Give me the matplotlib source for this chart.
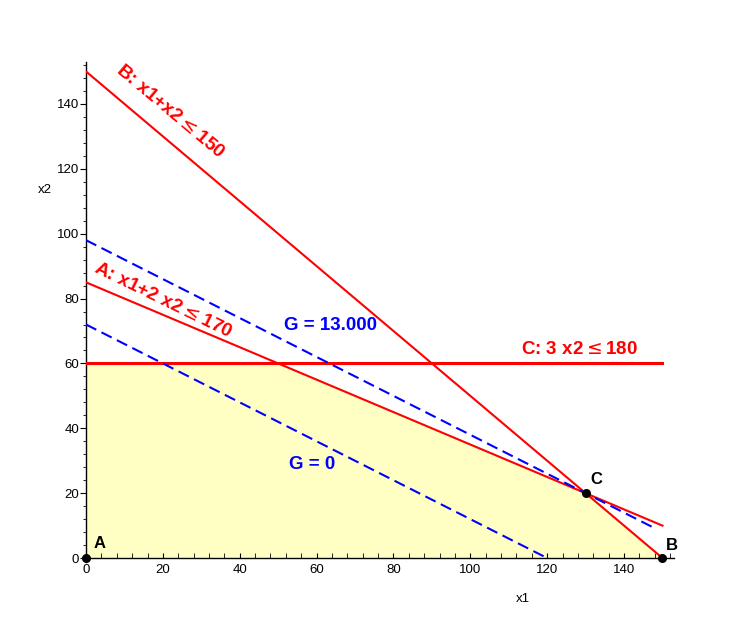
import numpy as np
import matplotlib
matplotlib.use("Agg")
import matplotlib.pyplot as plt
from matplotlib.ticker import MultipleLocator

plt.rcParams["font.family"] = ["Liberation Sans", "DejaVu Sans"]

# ---------------------------------------------------------------- data
# constraint lines (x1 range, x2 = a - b*x1)
x1_a = [0, 150]
x2_a = [85, 10]          # A: x1 + 2 x2 <= 170
x1_b = [0, 150]
x2_b = [150, 0]          # B: x1 + x2 <= 150
x1_c = [0, 150]
x2_c = [60, 60]          # C: 3 x2 <= 180

# objective iso-lines
x1_g0 = [0, 120]
x2_g0 = [72, 0]          # G = 0
x1_g13 = [0, 147.5]
x2_g13 = [98, 9.5]       # G = 13.000

# feasible region corners
feas_x1 = [0, 0, 50, 130, 150]
feas_x2 = [0, 60, 60, 20, 0]

# labelled corner points
pt_names = ["A", "B", "C"]
pt_x1 = [0, 150, 130]
pt_x2 = [0, 0, 20]

# ---------------------------------------------------------------- plot
fig = plt.figure(figsize=(7.5, 6.32), dpi=100)
ax = fig.add_axes([0.1147, 0.1108, 0.784, 0.7915])
ax.set_xlim(0, 153)
ax.set_ylim(-1.2, 153)

ax.fill(feas_x1, feas_x2, color="#ffffc4", lw=0, zorder=1)

red = "#ff0000"
blue = "#0000ff"
ax.plot(x1_b, x2_b, color=red, lw=1.5, zorder=3)
ax.plot(x1_a, x2_a, color=red, lw=1.5, zorder=3)
ax.plot(x1_c, x2_c, color=red, lw=2.2, zorder=3)
ax.plot(x1_g0, x2_g0, color=blue, lw=1.5, ls=(0, (5.5, 2.8)), zorder=4)
ax.plot(x1_g13, x2_g13, color=blue, lw=1.5, ls=(0, (5.5, 2.8)), zorder=4)

ax.plot(pt_x1, pt_x2, "o", color="black", ms=5.5, clip_on=False, zorder=6)

# text labels
ax.text(22, 137.5, r"B: x1+x2$\leq$150", color=red, fontsize=13.8,
        fontweight="bold", rotation=-40, ha="center", va="center")
ax.text(20, 79.5, r"A: x1+2 x2$\leq$170", color=red, fontsize=13.8,
        fontweight="bold", rotation=-26, ha="center", va="center")
ax.text(128.5, 64.3, r"C: 3 x2$\leq$180", color=red, fontsize=13.5,
        fontweight="bold", ha="center", va="center")
ax.text(63.5, 71.8, "G = 13.000", color=blue, fontsize=13.5,
        fontweight="bold", ha="center", va="center")
ax.text(58.8, 29, "G = 0", color=blue, fontsize=13.5,
        fontweight="bold", ha="center", va="center")
label_pos = {"A": (3.6, 4.6), "B": (152.5, 4.0), "C": (132.8, 24.2)}
for name in pt_names:
    lx, ly = label_pos[name]
    ax.text(lx, ly, name, fontsize=12, fontweight="bold",
            ha="center", va="center", clip_on=False)

# axes styling (Maple-like crossed axes)
for side in ("top", "right"):
    ax.spines[side].set_visible(False)
ax.spines["left"].set_position(("data", 0))
ax.spines["bottom"].set_position(("data", 0))
ax.spines["left"].set_linewidth(1.0)
ax.spines["bottom"].set_linewidth(1.0)

ax.xaxis.set_major_locator(MultipleLocator(20))
ax.xaxis.set_minor_locator(MultipleLocator(4))
ax.yaxis.set_major_locator(MultipleLocator(20))
ax.yaxis.set_minor_locator(MultipleLocator(4))
ax.tick_params(axis="x", which="both", direction="in", length=3.5,
               labelsize=9.5, pad=4)
ax.tick_params(axis="y", which="major", direction="out", length=4,
               labelsize=9.5, pad=1)
ax.tick_params(axis="y", which="minor", direction="out", length=2.5)

ax.text(113.7, -12.5, "x1", fontsize=9.5, ha="center", va="center",
        clip_on=False)
ax.text(-10.7, 113.5, "x2", fontsize=9.5, ha="center", va="center",
        clip_on=False)

fig.savefig("out.png", dpi=100)
